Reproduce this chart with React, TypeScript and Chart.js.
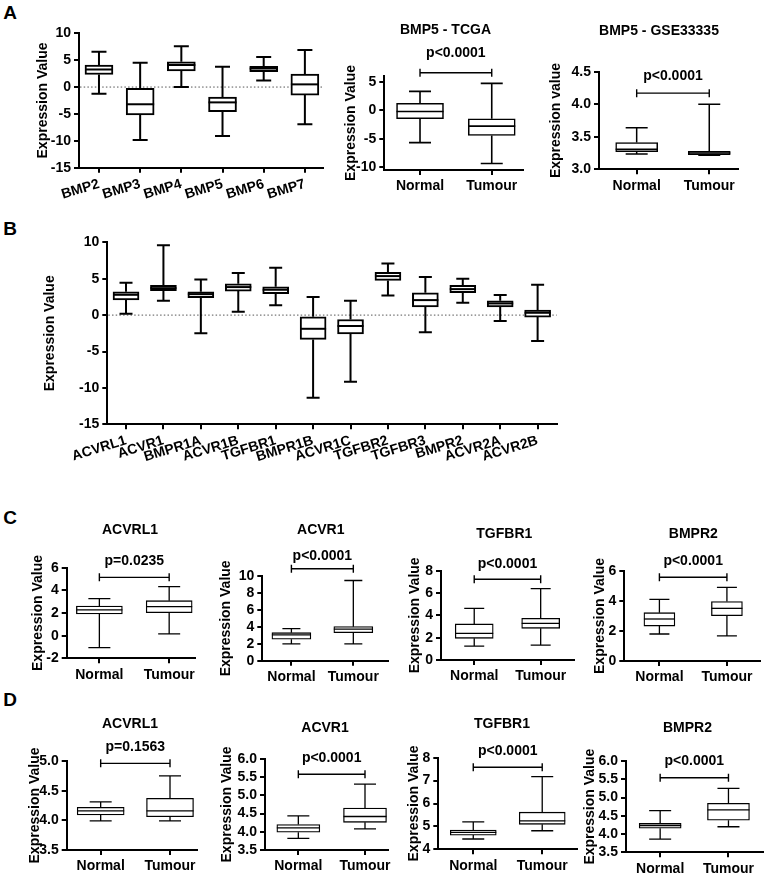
import React, { useEffect, useRef } from "react";
import { Chart, registerables } from "chart.js";

Chart.register(...registerables);

const FONT = '"Liberation Sans", Arial, Helvetica, sans-serif';

// ---------- Panel A: BMP ligands (TCGA) ----------
const bmpCategories = ["BMP2", "BMP3", "BMP4", "BMP5", "BMP6", "BMP7"];
const bmpMin = [-1.25, -9.85, 0.0, -9.1, 1.2, -6.9];
const bmpQ1 = [2.34, -5.2, 3.0, -4.6, 2.85, -1.5];
const bmpMedian = [3.27, -3.2, 4.1, -2.85, 3.45, 0.5];
const bmpQ3 = [4.09, -0.25, 4.7, -1.85, 3.85, 2.4];
const bmpMax = [6.56, 4.5, 7.6, 3.8, 5.6, 6.9];
const bmpTicks = [-15, -10, -5, 0, 5, 10];

const groups = ["Normal", "Tumour"];
// five-number summaries: [min, q1, median, q3, max]
const tcgaNormal = [-5.7, -1.5, -0.23, 1.2, 3.3];
const tcgaTumour = [-9.35, -4.45, -2.8, -1.5, 4.7];
const tcgaTicks = [-10, -5, 0, 5];

const gseNormal = [3.235, 3.27, 3.31, 3.41, 3.64];
const gseTumour = [3.215, 3.225, 3.25, 3.275, 4.0];
const gseTicks = [3.0, 3.5, 4.0, 4.5];

// ---------- Panel B: receptors ----------
const receptorCategories = ["ACVRL1", "ACVR1", "BMPR1A", "ACVR1B", "TGFBR1", "BMPR1B", "ACVR1C", "TGFBR2", "TGFBR3", "BMPR2", "ACVR2A", "ACVR2B"];
const receptorMin = [0.18, 1.97, -2.5, 0.46, 1.37, -11.36, -9.16, 2.7, -2.34, 1.69, -0.82, -3.57];
const receptorQ1 = [2.1, 3.34, 2.38, 3.3, 2.93, -3.34, -2.6, 4.76, 1.14, 3.07, 1.14, -0.27];
const receptorMedian = [2.79, 3.7, 2.88, 3.85, 3.48, -1.88, -1.5, 5.36, 2.06, 3.57, 1.6, 0.32];
const receptorQ3 = [3.2, 4.08, 3.2, 4.3, 3.9, -0.23, -0.6, 5.86, 3.07, 4.08, 1.97, 0.69];
const receptorMax = [4.44, 9.6, 4.9, 5.8, 6.5, 2.5, 1.97, 7.1, 5.22, 4.99, 2.75, 4.16];
const receptorTicks = [-15, -10, -5, 0, 5, 10];

// ---------- Panel C: TCGA normal vs tumour ----------
const cAcvrl1Normal = [-1.06, 1.91, 2.27, 2.62, 3.27];
const cAcvrl1Tumour = [0.15, 2.03, 2.56, 3.09, 4.33];
const cAcvr1Normal = [1.98, 2.53, 3.04, 3.31, 3.79];
const cAcvr1Tumour = [1.98, 3.31, 3.72, 4.02, 9.47];
const cTgfbr1Normal = [1.25, 1.94, 2.39, 3.23, 4.63];
const cTgfbr1Tumour = [1.34, 2.84, 3.29, 3.73, 6.39];
const cBmpr2Normal = [1.8, 2.33, 2.8, 3.22, 4.11];
const cBmpr2Tumour = [1.67, 3.02, 3.51, 3.96, 4.91];
const cAcvrl1Ticks = [-2, 0, 2, 4, 6];
const cAcvr1Ticks = [0, 2, 4, 6, 8, 10];
const cTgfbr1Ticks = [0, 2, 4, 6, 8];
const cBmpr2Ticks = [0, 2, 4, 6];

// ---------- Panel D: GSE33335 normal vs tumour ----------
const dAcvrl1Normal = [3.99, 4.09, 4.16, 4.22, 4.31];
const dAcvrl1Tumour = [3.99, 4.06, 4.16, 4.37, 4.75];
const dAcvr1Normal = [3.82, 3.99, 4.11, 4.2, 4.44];
const dAcvr1Tumour = [4.08, 4.26, 4.42, 4.65, 5.31];
const dTgfbr1Normal = [4.45, 4.62, 4.74, 4.84, 5.2];
const dTgfbr1Tumour = [4.81, 5.09, 5.24, 5.62, 7.17];
const dBmpr2Normal = [3.86, 4.16, 4.23, 4.29, 4.64];
const dBmpr2Tumour = [4.2, 4.38, 4.66, 4.84, 5.25];
const dAcvrl1Ticks = [3.5, 4.0, 4.5, 5.0];
const dAcvr1Ticks = [3.5, 4.0, 4.5, 5.0, 5.5, 6.0];
const dTgfbr1Ticks = [4, 5, 6, 7, 8];
const dBmpr2Ticks = [3.5, 4.0, 4.5, 5.0, 5.5, 6.0];

const pValues = ["p<0.0001", "p<0.0001", "p=0.0235", "p<0.0001", "p<0.0001", "p<0.0001", "p=0.1563", "p<0.0001", "p<0.0001", "p<0.0001"];

function fromStats(mn: number[], q1: number[], md: number[], q3: number[], mx: number[]) {
  return mn.map((_, i) => [mn[i], q1[i], md[i], q3[i], mx[i]]);
}

type Spec = {
  key: string;
  cats: string[];
  boxes: number[][];
  ticks: number[];
  dec: number;
  yMin: number;
  yMax: number;
  xMin: number;
  xMax: number;
  plot: number[]; // left, top, right, bottom (page px)
  titleX: number;
  yTitle: string;
  rot: number;
  xAxisH: number;
  padTop: number;
  padRight: number;
  barW: number;
  capW: number;
  lw: number;
  zero?: boolean;
  bracket?: { value: number; text: string; off: number };
};

const specs: Spec[] = [
  { key: "a1", cats: bmpCategories, boxes: fromStats(bmpMin, bmpQ1, bmpMedian, bmpQ3, bmpMax), ticks: bmpTicks, dec: 0, yMin: -15, yMax: 10, xMin: -0.485, xMax: 5.44, plot: [79, 33.3, 323, 167.7], titleX: 43, yTitle: "Expression Value", rot: 17, xAxisH: 45, padTop: 12, padRight: 8, barW: 28, capW: 15, lw: 2, zero: true },
  { key: "a2", cats: groups, boxes: [tcgaNormal, tcgaTumour], ticks: tcgaTicks, dec: 0, yMin: -10.5, yMax: 6, xMin: -0.498, xMax: 1.44, plot: [384.3, 76, 523.3, 170], titleX: 351.7, yTitle: "Expression Value", rot: 0, xAxisH: 30, padTop: 40, padRight: 8, barW: 47, capW: 22, lw: 1.6, bracket: { value: 6.58, text: pValues[0], off: 20 } },
  { key: "a3", cats: groups, boxes: [gseNormal, gseTumour], ticks: gseTicks, dec: 1, yMin: 3, yMax: 4.5, xMin: -0.519, xMax: 1.4, plot: [599, 71.7, 738.3, 169.3], titleX: 556, yTitle: "Expression value", rot: 0, xAxisH: 30, padTop: 40, padRight: 8, barW: 42, capW: 22, lw: 1.5, bracket: { value: 4.17, text: pValues[1], off: 17 } },
  { key: "b", cats: receptorCategories, boxes: fromStats(receptorMin, receptorQ1, receptorMedian, receptorQ3, receptorMax), ticks: receptorTicks, dec: 0, yMin: -15, yMax: 10, xMin: -0.5, xMax: 11.51, plot: [107.3, 242.3, 556.7, 424.3], titleX: 50, yTitle: "Expression Value", rot: 17, xAxisH: 50, padTop: 12, padRight: 8, barW: 26, capW: 13, lw: 2, zero: true },
  { key: "c1", cats: groups, boxes: [cAcvrl1Normal, cAcvrl1Tumour], ticks: cAcvrl1Ticks, dec: 0, yMin: -2, yMax: 6, xMin: -0.468, xMax: 1.37, plot: [66.7, 567.7, 195, 658.3], titleX: 38.3, yTitle: "Expression Value", rot: 0, xAxisH: 30, padTop: 40, padRight: 8, barW: 46, capW: 22, lw: 1.3, bracket: { value: 5.15, text: pValues[2], off: 16 } },
  { key: "c2", cats: groups, boxes: [cAcvr1Normal, cAcvr1Tumour], ticks: cAcvr1Ticks, dec: 0, yMin: 0, yMax: 10, xMin: -0.47, xMax: 1.56, plot: [262.3, 576, 388, 660.7], titleX: 226.7, yTitle: "Expression Value", rot: 0, xAxisH: 30, padTop: 40, padRight: 8, barW: 39, capW: 18, lw: 1.3, bracket: { value: 10.85, text: pValues[3], off: 13 } },
  { key: "c3", cats: groups, boxes: [cTgfbr1Normal, cTgfbr1Tumour], ticks: cTgfbr1Ticks, dec: 0, yMin: 0, yMax: 8, xMin: -0.5, xMax: 1.506, plot: [441, 570.7, 574.3, 660], titleX: 415.8, yTitle: "Expression Value", rot: 0, xAxisH: 30, padTop: 40, padRight: 8, barW: 38, capW: 20, lw: 1.3, bracket: { value: 7.23, text: pValues[4], off: 15 } },
  { key: "c4", cats: groups, boxes: [cBmpr2Normal, cBmpr2Tumour], ticks: cBmpr2Ticks, dec: 0, yMin: 0, yMax: 6, xMin: -0.52, xMax: 1.49, plot: [624.3, 571, 760, 661], titleX: 600, yTitle: "Expression Value", rot: 0, xAxisH: 30, padTop: 40, padRight: 3, barW: 31, capW: 20, lw: 1.3, bracket: { value: 5.58, text: pValues[5], off: 16 } },
  { key: "d1", cats: groups, boxes: [dAcvrl1Normal, dAcvrl1Tumour], ticks: dAcvrl1Ticks, dec: 1, yMin: 3.5, yMax: 5.0, xMin: -0.49, xMax: 1.385, plot: [66.7, 761, 196.7, 850], titleX: 35.8, yTitle: "Expression Value", rot: 0, xAxisH: 26, padTop: 40, padRight: 8, barW: 47, capW: 22, lw: 1.3, bracket: { value: 4.96, text: pValues[6], off: 16 } },
  { key: "d2", cats: groups, boxes: [dAcvr1Normal, dAcvr1Tumour], ticks: dAcvr1Ticks, dec: 1, yMin: 3.5, yMax: 6.0, xMin: -0.5, xMax: 1.345, plot: [265, 759, 388, 850], titleX: 227.5, yTitle: "Expression Value", rot: 0, xAxisH: 26, padTop: 40, padRight: 8, barW: 43, capW: 22, lw: 1.3, bracket: { value: 5.58, text: pValues[7], off: 16 } },
  { key: "d3", cats: groups, boxes: [dTgfbr1Normal, dTgfbr1Tumour], ticks: dTgfbr1Ticks, dec: 0, yMin: 4, yMax: 8, xMin: -0.507, xMax: 1.5, plot: [438.3, 757.7, 576.7, 849.3], titleX: 414, yTitle: "Expression Value", rot: 0, xAxisH: 26, padTop: 40, padRight: 8, barW: 46, capW: 22, lw: 1.3, bracket: { value: 7.58, text: pValues[8], off: 16 } },
  { key: "d4", cats: groups, boxes: [dBmpr2Normal, dBmpr2Tumour], ticks: dBmpr2Ticks, dec: 1, yMin: 3.5, yMax: 6.0, xMin: -0.5, xMax: 1.51, plot: [626, 761, 763.3, 852.3], titleX: 590, yTitle: "Expression Value", rot: 0, xAxisH: 24, padTop: 40, padRight: 1, barW: 42, capW: 22, lw: 1.3, bracket: { value: 5.54, text: pValues[9], off: 17 } },
];

const headings = [
  { text: "BMP5 - TCGA", x: 445.5, y: 29 },
  { text: "BMP5 - GSE33335", x: 659, y: 30 },
  { text: "ACVRL1", x: 130, y: 529.3 },
  { text: "ACVR1", x: 320.8, y: 529.3 },
  { text: "TGFBR1", x: 504.3, y: 532.7 },
  { text: "BMPR2", x: 693.3, y: 532.7 },
  { text: "ACVRL1", x: 130, y: 722.7 },
  { text: "ACVR1", x: 325, y: 726.7 },
  { text: "TGFBR1", x: 502, y: 723.3 },
  { text: "BMPR2", x: 687.5, y: 727.3 },
];

const panelLetters = [
  { text: "A", x: 10, y: 11.5 },
  { text: "B", x: 10, y: 228 },
  { text: "C", x: 10, y: 516.7 },
  { text: "D", x: 10, y: 699 },
];

function makeBoxPlugin(spec: Spec) {
  return {
    id: "boxExtras_" + spec.key,
    beforeDatasetsDraw(chart: any) {
      const { ctx, chartArea } = chart;
      const xs = chart.scales.x;
      const ys = chart.scales.y;
      ctx.save();
      if (spec.zero) {
        const y0 = ys.getPixelForValue(0);
        ctx.strokeStyle = "#555";
        ctx.lineWidth = 1;
        ctx.setLineDash([1.5, 2.2]);
        ctx.beginPath();
        ctx.moveTo(chartArea.left + 1, y0);
        ctx.lineTo(chartArea.right, y0);
        ctx.stroke();
        ctx.setLineDash([]);
      }
      ctx.strokeStyle = "#000";
      ctx.lineWidth = spec.lw;
      ctx.lineCap = "butt";
      spec.boxes.forEach((b, i) => {
        const px = xs.getPixelForValue(i);
        const mn = ys.getPixelForValue(b[0]);
        const q1 = ys.getPixelForValue(b[1]);
        const q3 = ys.getPixelForValue(b[3]);
        const mx = ys.getPixelForValue(b[4]);
        const c = spec.capW / 2;
        ctx.beginPath();
        ctx.moveTo(px, mx);
        ctx.lineTo(px, q3);
        ctx.moveTo(px, q1);
        ctx.lineTo(px, mn);
        ctx.moveTo(px - c, mx);
        ctx.lineTo(px + c, mx);
        ctx.moveTo(px - c, mn);
        ctx.lineTo(px + c, mn);
        ctx.stroke();
      });
      ctx.restore();
    },
    afterDatasetsDraw(chart: any) {
      const { ctx } = chart;
      const xs = chart.scales.x;
      const ys = chart.scales.y;
      ctx.save();
      ctx.strokeStyle = "#000";
      ctx.lineWidth = spec.lw;
      spec.boxes.forEach((b, i) => {
        const px = xs.getPixelForValue(i);
        const md = ys.getPixelForValue(b[2]);
        ctx.beginPath();
        ctx.moveTo(px - spec.barW / 2, md);
        ctx.lineTo(px + spec.barW / 2, md);
        ctx.stroke();
      });
      if (spec.bracket) {
        const by = ys.getPixelForValue(spec.bracket.value);
        const x0 = xs.getPixelForValue(0);
        const x1 = xs.getPixelForValue(1);
        ctx.lineWidth = 1.4;
        ctx.beginPath();
        ctx.moveTo(x0, by);
        ctx.lineTo(x1, by);
        ctx.moveTo(x0, by - 4);
        ctx.lineTo(x0, by + 4);
        ctx.moveTo(x1, by - 4);
        ctx.lineTo(x1, by + 4);
        ctx.stroke();
        ctx.fillStyle = "#000";
        ctx.font = "bold 14px " + FONT;
        ctx.textAlign = "center";
        ctx.textBaseline = "middle";
        ctx.fillText(spec.bracket.text, (x0 + x1) / 2, by - spec.bracket.off);
      }
      ctx.restore();
    },
  };
}

function geometry(spec: Spec) {
  const [pl, pt, pr, pb] = spec.plot;
  const left = Math.round(spec.titleX - 8.4);
  const top = Math.round(pt - spec.padTop);
  const width = Math.round(pr + spec.padRight - left);
  const height = Math.round(pb + spec.xAxisH - top);
  return {
    left,
    top,
    width,
    height,
    yAxisW: pl - left,
    padTop: pt - top,
    padRight: width - (pr - left),
    xAxisH: height - (pb - top),
  };
}

function BoxChart({ spec }: { spec: Spec }) {
  const ref = useRef<HTMLCanvasElement | null>(null);
  const g = geometry(spec);
  useEffect(() => {
    if (!ref.current) return;
    const tickFont = { family: FONT, size: 14, weight: "bold" as const };
    const axisGrid = {
      display: true,
      offset: false,
      drawOnChartArea: false,
      drawTicks: true,
      tickLength: 5,
      color: "#000",
      lineWidth: 2,
    };
    const axisBorder = { display: true, color: "#000", width: 2 };
    const chart = new Chart(ref.current, {
      type: "bar",
      data: {
        datasets: [
          {
            data: spec.boxes.map((b, i) => ({ x: i, y: [b[1], b[3]] })) as any,
            backgroundColor: "#fff",
            borderColor: "#000",
            borderWidth: spec.lw,
            borderSkipped: false,
            barThickness: spec.barW,
          },
        ],
      },
      options: {
        animation: false,
        responsive: false,
        events: [],
        layout: { padding: { top: g.padTop, right: g.padRight, left: 0, bottom: 0 } },
        plugins: { legend: { display: false }, tooltip: { enabled: false } },
        scales: {
          x: {
            type: "linear",
            min: spec.xMin,
            max: spec.xMax,
            offset: false,
            bounds: "data",
            grid: axisGrid,
            border: axisBorder,
            ticks: {
              autoSkip: false,
              minRotation: spec.rot,
              maxRotation: spec.rot,
              padding: 3,
              color: "#000",
              font: tickFont,
              callback: (_v: any, i: number) => spec.cats[i],
            },
            afterBuildTicks: (s: any) => {
              s.ticks = spec.cats.map((_, i) => ({ value: i }));
            },
            afterFit: (s: any) => {
              s.height = g.xAxisH;
              s.paddingLeft = 0;
              s.paddingRight = 0;
            },
          } as any,
          y: {
            type: "linear",
            min: spec.yMin,
            max: spec.yMax,
            beginAtZero: false,
            bounds: "data",
            grid: axisGrid,
            border: axisBorder,
            ticks: {
              autoSkip: false,
              padding: 3,
              color: "#000",
              font: tickFont,
              callback: (_v: any, i: number) => spec.ticks[i].toFixed(spec.dec),
            },
            afterBuildTicks: (s: any) => {
              s.ticks = spec.ticks.map((v) => ({ value: v }));
            },
            afterFit: (s: any) => {
              s.width = g.yAxisW;
              s.paddingTop = 0;
              s.paddingBottom = 0;
            },
            title: {
              display: true,
              text: spec.yTitle,
              padding: 0,
              color: "#000",
              font: { family: FONT, size: 14, weight: "bold" },
            },
          } as any,
        },
      },
      plugins: [makeBoxPlugin(spec)],
    });
    return () => chart.destroy();
  }, [spec]);
  return (
    <canvas
      ref={ref}
      width={g.width}
      height={g.height}
      style={{ position: "absolute", left: g.left, top: g.top, width: g.width, height: g.height }}
    />
  );
}

export default function App() {
  return (
    <div
      style={{
        position: "absolute",
        left: 0,
        top: 0,
        width: 765,
        height: 877,
        overflow: "hidden",
        background: "#fff",
        fontFamily: FONT,
      }}
    >
      {specs.map((s) => (
        <BoxChart key={s.key} spec={s} />
      ))}
      {headings.map((h, i) => (
        <div
          key={"h" + i}
          style={{
            position: "absolute",
            left: h.x,
            top: h.y,
            transform: "translate(-50%, -50%)",
            fontSize: 14,
            fontWeight: "bold",
            lineHeight: 1,
            whiteSpace: "nowrap",
            color: "#000",
          }}
        >
          {h.text}
        </div>
      ))}
      {panelLetters.map((p) => (
        <div
          key={p.text}
          style={{
            position: "absolute",
            left: p.x,
            top: p.y,
            transform: "translate(-50%, -50%)",
            fontSize: 19,
            fontWeight: "bold",
            lineHeight: 1,
            color: "#000",
          }}
        >
          {p.text}
        </div>
      ))}
    </div>
  );
}
